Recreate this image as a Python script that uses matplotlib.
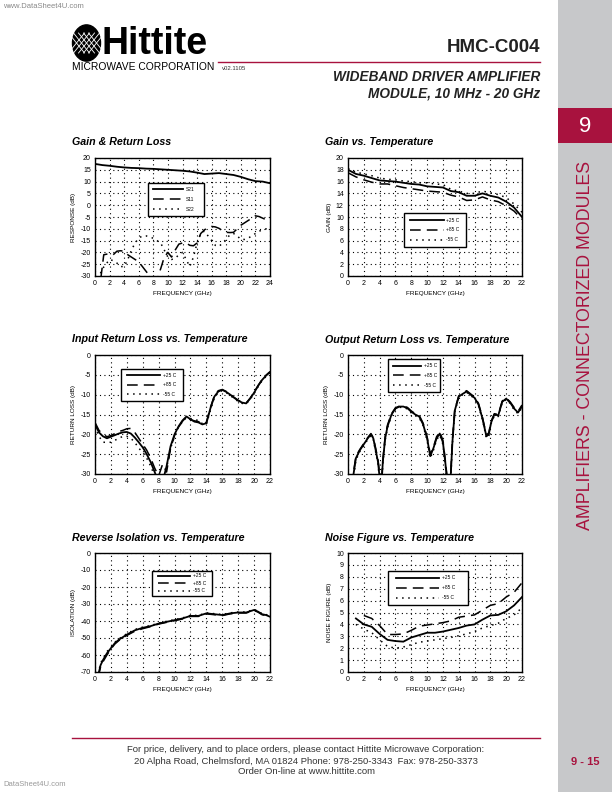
import matplotlib
matplotlib.use("Agg")
import matplotlib.pyplot as plt
from matplotlib.patches import Rectangle, Circle
from matplotlib.lines import Line2D

plt.rcParams['font.family'] = ['Liberation Sans', 'DejaVu Sans']
plt.rcParams['axes.unicode_minus'] = False

W, H = 612, 792
RED = '#A8123E'
GRAY = '#C7C8CA'

# ---- data ----
gain_freq = list(range(0, 25))
s21 = [17.5, 17.0, 16.7, 16.3, 16.0, 15.8, 15.7, 15.5, 15.4, 15.2, 15.0, 14.8, 14.6,
       14.3, 13.8, 13.2, 13.4, 13.6, 13.2, 12.8, 12.0, 11.0, 10.2, 10.0, 9.3]
s11_freq = [0.8, 1.2, 2, 2.5, 3, 3.5, 4, 4.5, 5, 5.5, 6, 6.5, 7, 7.5, 8, 8.5, 9, 9.5, 10,
            10.5, 11, 11.5, 12, 12.5, 13, 13.5, 14, 14.5, 15, 15.5, 16, 16.5, 17, 17.5,
            18, 18.5, 19, 19.5, 20, 20.5, 21, 21.5, 22, 22.5, 23, 23.5, 24]
s11 = [-31, -21, -20.5, -21, -19.5, -19.3, -19.5, -21, -22, -23, -24, -26, -28, -30, -32,
       -31, -27, -22, -20, -22, -19, -16.5, -16, -16, -17, -17.2, -16, -12, -10.5, -9.3,
       -9, -9.2, -9.8, -10.8, -11.5, -11.6, -11.5, -10, -8.5, -7.5, -6.5, -5.5, -4.5,
       -4.8, -5.5, -6.2, -6.8]
s22_freq = [0.3, 0.6, 1, 1.5, 2, 2.5, 3, 3.5, 4, 4.5, 5, 5.5, 6, 6.5, 7, 7.5, 8, 8.5, 9,
            9.5, 10, 10.5, 11, 11.5, 12, 12.5, 13, 13.5, 14, 14.5, 15, 15.5, 16, 16.5, 17,
            17.5, 18, 18.5, 19, 19.5, 20, 20.5, 21, 21.5, 22, 22.5, 23, 23.5, 24]
s22 = [-31, -30, -27, -25, -23, -23.5, -24.5, -26, -26, -23, -19, -16, -14, -13, -13,
       -13.5, -14, -15, -16, -19, -22, -23, -22.5, -21, -20, -23, -26, -22, -16, -12, -11,
       -13, -15, -17, -17.5, -16, -14.5, -12.5, -12, -13, -14.5, -14.5, -14, -13, -12,
       -11, -10.5, -10, -10]

temp_freq = list(range(0, 23))
gain_25 = [18.0, 17.3, 17.0, 16.6, 16.2, 16.1, 16.0, 15.8, 15.6, 15.5, 15.2, 15.1, 15.0,
           14.4, 14.2, 13.6, 13.6, 14.0, 13.6, 13.3, 12.6, 11.6, 10.0]
gain_85 = [17.5, 16.8, 16.3, 15.9, 15.6, 15.6, 15.3, 15.0, 14.8, 14.6, 14.4, 14.3, 14.2,
           13.7, 13.4, 12.8, 12.9, 13.4, 12.9, 12.6, 11.9, 11.0, 9.6]
gain_m55 = [18.2, 17.6, 17.3, 17.0, 16.6, 16.4, 16.3, 16.1, 16.0, 15.8, 15.8, 15.6, 15.5,
            14.7, 14.4, 14.0, 14.0, 14.4, 14.1, 13.8, 13.3, 12.2, 10.8]

irl_freq = [i * 0.5 for i in range(45)]
irl_25 = [-17.5, -19.5, -20.5, -21, -20.6, -20.2, -19.8, -19.5, -19.4, -19.8, -20.8, -22,
          -23.3, -25, -27, -29.5, -32, -32, -28, -23, -20, -18, -16.5, -15.5, -16.2, -16.8,
          -17, -17.5, -17.2, -13.5, -10.5, -9.2, -8.8, -9.3, -10, -10.8, -11.5, -12, -12.2,
          -11, -9.5, -7.8, -6.3, -5.2, -4.3]
irl_85 = [-17, -19, -20, -20.6, -20.3, -19.8, -19.3, -19, -18.6, -18.5, -19.5, -21, -22.5,
          -24, -26, -28.5, -30.5, -27.5, -29.5, -23.5, -20.3, -18.2, -16.7, -15.6, -16.3,
          -16.6, -16.8, -17.3, -17, -13.3, -10.3, -9, -8.7, -9.2, -9.9, -10.7, -11.4, -11.9,
          -12.1, -10.9, -9.4, -7.7, -6.2, -5.1, -4.2]
irl_m55 = [-18, -20.5, -22, -22, -22, -21.5, -21, -20.5, -20.5, -21, -22, -23.5, -24.5,
           -26, -28, -30.5, -32, -32, -28.5, -23.5, -20.5, -18.2, -16.8, -15.8, -16, -16.3,
           -16.5, -17.3, -17.5, -14, -10.8, -9.4, -9, -9.5, -10.2, -11, -11.7, -12.2, -12.3,
           -11.2, -9.7, -8, -6.5, -5.4, -4.5]

orl_freq = [0.5, 0.7, 1, 1.5, 2, 2.5, 2.9, 3.2, 3.5, 3.8, 4.0, 4.2, 4.4, 4.7, 5, 5.5, 6,
            6.5, 7, 7.5, 8, 8.5, 9, 9.5, 10, 10.4, 10.8, 11.2, 11.6, 12, 12.3, 12.6, 12.9,
            13.2, 13.5, 14, 14.5, 15, 15.5, 16, 16.5, 17, 17.5, 17.8, 18.1, 18.5, 19, 19.5,
            20, 20.5, 21, 21.5, 22]
orl_25 = [-34, -30, -26, -24, -22.5, -21, -20, -21, -24, -27, -31, -34, -27, -21, -18, -15,
          -13.5, -13, -13, -13.4, -14.3, -15, -15.5, -17.5, -21, -25.5, -23.5, -21, -19.8,
          -22, -27, -33, -34, -22, -14, -10.5, -9.8, -9.2, -10, -10.8, -12.5, -16, -20.5,
          -20, -17, -15, -15.2, -11.8, -11, -12, -13.5, -14.5, -13]
orl_85 = [-33, -29.5, -25.5, -23.8, -22.3, -20.8, -19.8, -20.8, -23.5, -26.5, -30, -33,
          -26.5, -20.5, -17.6, -14.8, -13.3, -12.9, -12.9, -13.2, -14.1, -14.8, -15.2,
          -17.2, -20.6, -25, -23.2, -20.6, -19.4, -21.5, -26.5, -32, -33, -21.5, -13.8,
          -10.3, -9.6, -9, -9.8, -10.6, -12.2, -15.7, -20.2, -19.6, -16.7, -14.8, -15,
          -11.6, -10.8, -11.8, -13.2, -14.2, -12.6]
orl_m55 = [-35, -31, -26.5, -24.3, -22.8, -21.3, -20.3, -21.3, -24.5, -27.5, -32, -35,
           -27.5, -21.5, -18.3, -15.3, -13.7, -13.2, -13.2, -13.6, -14.6, -15.3, -15.8,
           -17.8, -21.5, -26, -24, -21.4, -20.2, -22.5, -27.5, -34, -35, -22.5, -14.3,
           -10.8, -10, -9.4, -10.2, -11, -12.8, -16.3, -21, -20.5, -17.3, -15.3, -15.5,
           -12, -11.2, -12.2, -13.8, -14.8, -13.3]

iso_freq = [0.3, 0.5, 0.7, 1, 1.5, 2, 2.5, 3, 4, 5, 6, 7, 8, 9, 10, 11, 12, 13, 14, 15,
            16, 17, 18, 19, 20, 20.5, 21, 21.5, 22]
iso_25 = [-72, -70, -66, -63, -59, -56, -53, -51, -48, -45.5, -44, -43, -41.5, -40.5,
          -39.5, -38.5, -37, -37, -35.5, -36, -36.5, -35.5, -35, -35, -33.5, -34.5, -36,
          -36.5, -37.5]
iso_85 = [-73, -71, -67, -64, -60, -56.5, -53.5, -51.5, -48.5, -46, -44.5, -43.3, -41.8,
          -40.8, -39.8, -38.8, -37.3, -37.3, -35.8, -36.3, -36.8, -35.8, -35.3, -35.3,
          -33.8, -34.8, -36.3, -36.8, -37.8]
iso_m55 = [-71, -69, -65, -62, -58, -55.5, -52.5, -50.5, -47.5, -45, -43.6, -42.7, -41.2,
           -40.2, -39.2, -38.2, -36.7, -36.7, -35.2, -35.7, -36.2, -35.2, -34.7, -34.7,
           -33.2, -34.2, -35.7, -36.2, -37.2]

nf_freq = list(range(1, 23))
nf_25 = [4.5, 4.0, 3.8, 3.2, 2.7, 2.6, 2.55, 2.9, 3.1, 3.3, 3.3, 3.4, 3.55, 3.7, 3.9, 4.0,
         4.4, 4.75, 4.8, 5.1, 5.6, 6.3]
nf_85_freq = list(range(2, 23))
nf_85 = [4.75, 4.5, 3.9, 3.15, 3.15, 3.2, 3.5, 3.85, 3.95, 4.05, 4.15, 4.3, 4.6, 4.7, 4.8,
         5.2, 5.6, 5.75, 6.3, 6.7, 7.5]
nf_m55 = [4.0, 3.6, 3.3, 2.7, 2.15, 2.0, 2.1, 2.3, 2.5, 2.6, 2.7, 2.8, 2.9, 3.05, 3.2, 3.4,
          3.7, 3.9, 4.1, 4.5, 4.8, 5.4]

temp_labels = ['+25 C', '+85 C', '-55 C']
sparam_labels = ['S21', 'S11', 'S22']

SOLID = dict(color='black', lw=1.3, ls='-')
DASH = dict(color='black', lw=1.1, ls=(0, (7, 4)))
DOT = dict(color='black', lw=1.1, ls=(0, (1, 3)))
STYLES = [SOLID, DASH, DOT]


def box(x0, y0, x1, y1):
    return [x0 / W, 1 - y1 / H, (x1 - x0) / W, (y1 - y0) / H]


def legend_box(ax, x0, y0, x1, y1, labels):
    ax.add_patch(Rectangle((x0, y0), x1 - x0, y1 - y0, transform=ax.transAxes,
                           facecolor='white', edgecolor='black', lw=1, zorder=5))
    w, h = x1 - x0, y1 - y0
    for i, (lab, st) in enumerate(zip(labels, STYLES)):
        yy = y1 - h * (0.2 + 0.3 * i)
        ax.add_line(Line2D([x0 + 0.1 * w, x0 + 0.64 * w], [yy, yy], transform=ax.transAxes,
                           zorder=6, **st))
        ax.text(x0 + 0.68 * w, yy, lab, transform=ax.transAxes, fontsize=3.5,
                va='center', ha='left', zorder=6)


def make_axes(fig, rect, title, title_xy, xmax, ylim, ystep, ylabel):
    ax = fig.add_axes(box(*rect))
    ax.set_xlim(0, xmax)
    ax.set_ylim(*ylim)
    ax.set_xticks(range(0, xmax + 1, 2))
    ax.set_yticks(range(ylim[0], ylim[1] + 1, ystep))
    ax.tick_params(length=0, labelsize=5, pad=3)
    ax.grid(True, color='black', lw=0.8, ls=(0, (1, 3)))
    for s in ax.spines.values():
        s.set_linewidth(1)
    ax.set_xlabel('FREQUENCY (GHz)', fontsize=4.6, labelpad=3)
    ax.set_ylabel(ylabel, fontsize=4.6, labelpad=3)
    fig.text(title_xy[0] / W, 1 - title_xy[1] / H, title, fontsize=7.7, weight='bold',
             style='italic', va='center', ha='left')
    return ax


fig = plt.figure(figsize=(W / 100, H / 100), dpi=100)

# side band
fig.patches.append(Rectangle((558 / W, 0), 54 / W, 1, transform=fig.transFigure,
                             facecolor=GRAY, edgecolor='none', zorder=0))
fig.patches.append(Rectangle((558 / W, 1 - 143 / H), 54 / W, 35 / H,
                             transform=fig.transFigure, facecolor=RED, edgecolor='none',
                             zorder=1))
fig.text(585 / W, 1 - 126 / H, '9', color='white', fontsize=16, ha='center', va='center')
fig.text(585 / W, 1 - 345 / H, 'AMPLIFIERS - CONNECTORIZED MODULES', color=RED,
         fontsize=12.8, rotation=90, ha='center', va='center')
fig.text(585 / W, 1 - 762 / H, '9 - 15', color=RED, fontsize=8, weight='bold',
         ha='center', va='center')

# header
fig.text(3 / W, 1 - 6 / H, 'www.DataSheet4U.com', color='#888888', fontsize=5.5,
         ha='left', va='center')
fig.patches.append(Circle((86.5 / W, 1 - 43 / H), 14 / W, transform=fig.transFigure,
                          facecolor='black', edgecolor='black'))
for k in range(-2, 3):
    fig.add_artist(Line2D([(86.5 + 5 * k - 8) / W, (86.5 + 5 * k + 8) / W],
                          [1 - 33 / H, 1 - 53 / H], color='white', lw=0.6))
    fig.add_artist(Line2D([(86.5 + 5 * k + 8) / W, (86.5 + 5 * k - 8) / W],
                          [1 - 33 / H, 1 - 53 / H], color='white', lw=0.6))
fig.text(101 / W, 1 - 44 / H, 'Hittite', fontsize=27, weight='bold', ha='left',
         va='center')
fig.text(72 / W, 1 - 67 / H, 'MICROWAVE CORPORATION', fontsize=7.4, ha='left',
         va='center')
fig.text(222 / W, 1 - 68 / H, 'v02.1105', fontsize=4.3, ha='left', va='center',
         color='#333333')
fig.text(540 / W, 1 - 48 / H, 'HMC-C004', fontsize=13.5, weight='bold', ha='right',
         va='center', color='#222222')
fig.add_artist(Line2D([218 / W, 540 / W], [1 - 62 / H, 1 - 62 / H], color=RED, lw=1))
fig.text(540 / W, 1 - 77 / H, 'WIDEBAND DRIVER AMPLIFIER', fontsize=9.8, weight='bold',
         style='italic', ha='right', va='center', color='#222222')
fig.text(540 / W, 1 - 94 / H, 'MODULE, 10 MHz - 20 GHz', fontsize=9.8, weight='bold',
         style='italic', ha='right', va='center', color='#222222')

# footer
fig.add_artist(Line2D([72 / W, 540 / W], [1 - 738 / H, 1 - 738 / H], color=RED, lw=1))
footer = ['For price, delivery, and to place orders, please contact Hittite Microwave Corporation:',
          '20 Alpha Road, Chelmsford, MA 01824 Phone: 978-250-3343  Fax: 978-250-3373',
          'Order On-line at www.hittite.com']
for i, line in enumerate(footer):
    fig.text(306 / W, 1 - (750 + 11 * i) / H, line, fontsize=6.8, ha='center',
             va='center', color='#333333')
fig.text(3 / W, 1 - 785 / H, 'DataSheet4U.com', color='#999999', fontsize=5.5,
         ha='left', va='center')

# charts
ax1 = make_axes(fig, (95, 158, 270, 276), 'Gain & Return Loss', (72, 142), 24,
                (-30, 20), 5, 'RESPONSE (dB)')
ax1.plot(gain_freq, s21, **SOLID)
ax1.plot(s11_freq, s11, **DASH)
ax1.plot(s22_freq, s22, **DOT)
legend_box(ax1, 0.30, 0.51, 0.62, 0.79, sparam_labels)

ax2 = make_axes(fig, (348, 158, 522, 276), 'Gain vs. Temperature', (325, 142), 22,
                (0, 20), 2, 'GAIN (dB)')
ax2.plot(temp_freq, gain_25, **SOLID)
ax2.plot(temp_freq, gain_85, **DASH)
ax2.plot(temp_freq, gain_m55, **DOT)
legend_box(ax2, 0.32, 0.25, 0.68, 0.53, temp_labels)

ax3 = make_axes(fig, (95, 355, 270, 474), 'Input Return Loss vs. Temperature', (72, 339),
                22, (-30, 0), 5, 'RETURN LOSS (dB)')
ax3.plot(irl_freq, irl_25, **SOLID)
ax3.plot(irl_freq, irl_85, **DASH)
ax3.plot(irl_freq, irl_m55, **DOT)
legend_box(ax3, 0.146, 0.617, 0.50, 0.883, temp_labels)

ax4 = make_axes(fig, (348, 355, 522, 474), 'Output Return Loss vs. Temperature',
                (325, 340), 22, (-30, 0), 5, 'RETURN LOSS (dB)')
ax4.plot(orl_freq, orl_25, **SOLID)
ax4.plot(orl_freq, orl_85, **DASH)
ax4.plot(orl_freq, orl_m55, **DOT)
legend_box(ax4, 0.23, 0.69, 0.53, 0.967, temp_labels)

ax5 = make_axes(fig, (95, 553, 270, 672), 'Reverse Isolation vs. Temperature', (72, 538),
                22, (-70, 0), 10, 'ISOLATION (dB)')
ax5.plot(iso_freq, iso_25, **SOLID)
ax5.plot(iso_freq, iso_85, **DASH)
ax5.plot(iso_freq, iso_m55, **DOT)
legend_box(ax5, 0.324, 0.64, 0.67, 0.85, temp_labels)

ax6 = make_axes(fig, (348, 553, 522, 672), 'Noise Figure vs. Temperature', (325, 538),
                22, (0, 10), 1, 'NOISE FIGURE (dB)')
ax6.plot(nf_freq, nf_25, **SOLID)
ax6.plot(nf_85_freq, nf_85, **DASH)
ax6.plot(nf_freq, nf_m55, **DOT)
legend_box(ax6, 0.228, 0.567, 0.688, 0.85, temp_labels)

fig.savefig('out.png', dpi=100)
